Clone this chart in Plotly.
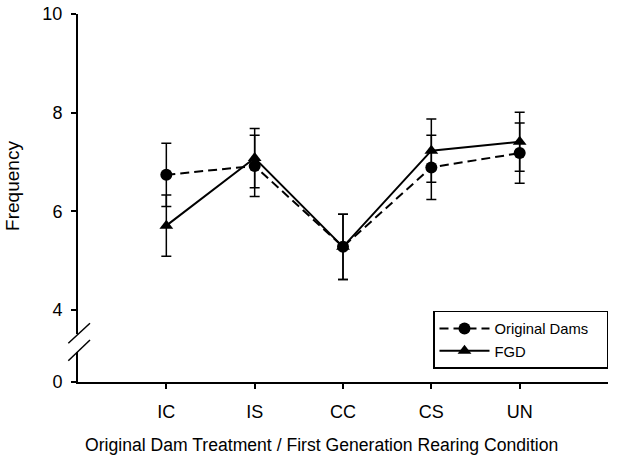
import plotly.graph_objects as go

categories = ["IC", "IS", "CC", "CS", "UN"]
cat_pos = [1, 2, 3, 4, 5]
dams = [6.74, 6.92, 5.28, 6.89, 7.18]
dams_err = [0.64, 0.62, 0.66, 0.65, 0.61]
fgd = [5.71, 7.08, 5.28, 7.23, 7.41]
fgd_err = [0.62, 0.60, 0.66, 0.64, 0.60]
upper_ticks = [4, 6, 8, 10]
lower_ticks = [0]
series_names = ["Original Dams", "FGD"]

FONT = "Liberation Sans, Arial, sans-serif"
PAD = "\u00a0\u00a0\u00a0"

fig = go.Figure()
fig.add_trace(go.Scatter(
    x=cat_pos, y=dams, name=series_names[0] + PAD, mode="lines+markers",
    line=dict(color="black", width=2, dash="9px,5px"),
    marker=dict(symbol="circle", size=12, color="black"),
    error_y=dict(type="data", array=dams_err, color="black", thickness=1.5, width=5),
    xaxis="x", yaxis="y",
))
fig.add_trace(go.Scatter(
    x=cat_pos, y=fgd, name=series_names[1], mode="lines+markers",
    line=dict(color="black", width=2),
    marker=dict(symbol="triangle-up", size=12, color="black"),
    error_y=dict(type="data", array=fgd_err, color="black", thickness=1.5, width=5),
    xaxis="x", yaxis="y",
))
# empty trace so the lower (broken) axis segment is created
fig.add_trace(go.Scatter(x=[None], y=[None], xaxis="x", yaxis="y2",
                         showlegend=False, hoverinfo="skip"))

axis_common = dict(showline=True, linecolor="black", linewidth=2, ticks="outside",
                   ticklen=5, tickwidth=1.5, tickcolor="black", showgrid=False,
                   zeroline=False, automargin=False,
                   tickfont=dict(size=18, color="black", family=FONT))

fig.update_layout(
    template="none",
    width=621, height=463,
    margin=dict(l=78, r=13, t=14, b=81, autoexpand=False),
    paper_bgcolor="white", plot_bgcolor="white",
    font=dict(family=FONT, color="black"),
    xaxis=dict(range=[0, 6], tickvals=cat_pos, ticktext=categories, anchor="y2",
               domain=[0, 1], ticklabelstandoff=7, **axis_common),
    yaxis=dict(domain=[0.1304, 1], range=[3.513, 10], tickvals=upper_ticks,
               anchor="x", ticklabelstandoff=5, **axis_common),
    yaxis2=dict(domain=[0, 0.0815], range=[0, 1], tickvals=lower_ticks,
                anchor="x", ticklabelstandoff=5, **axis_common),
    showlegend=True,
    legend=dict(x=1.0, y=0.193, xanchor="right", yanchor="top",
                bordercolor="black", borderwidth=1.5, bgcolor="white",
                font=dict(size=14.8, family=FONT, color="black"),
                itemwidth=50, tracegroupgap=0),
    annotations=[
        dict(text="Frequency", xref="paper", yref="paper", x=-0.1226, y=0.533,
             textangle=-90, showarrow=False, font=dict(size=19, family=FONT),
             xanchor="center", yanchor="middle"),
        dict(text="Original Dam Treatment / First Generation Rearing Condition",
             xref="paper", yref="paper", x=0.4585, y=-0.171, showarrow=False,
             font=dict(size=17.6, family=FONT), xanchor="center", yanchor="middle"),
    ],
    shapes=[
        dict(type="line", xref="paper", yref="paper", x0=-0.0183, y0=0.1052,
             x1=0.0226, y1=0.1595, line=dict(color="black", width=1.5)),
        dict(type="line", xref="paper", yref="paper", x0=-0.0183, y0=0.0579,
             x1=0.0226, y1=0.1141, line=dict(color="black", width=1.5)),
    ],
)

fig.write_html("out.html",
               config={"displayModeBar": False},
               post_script="document.body.style.margin='0px';document.body.style.padding='0px';")
